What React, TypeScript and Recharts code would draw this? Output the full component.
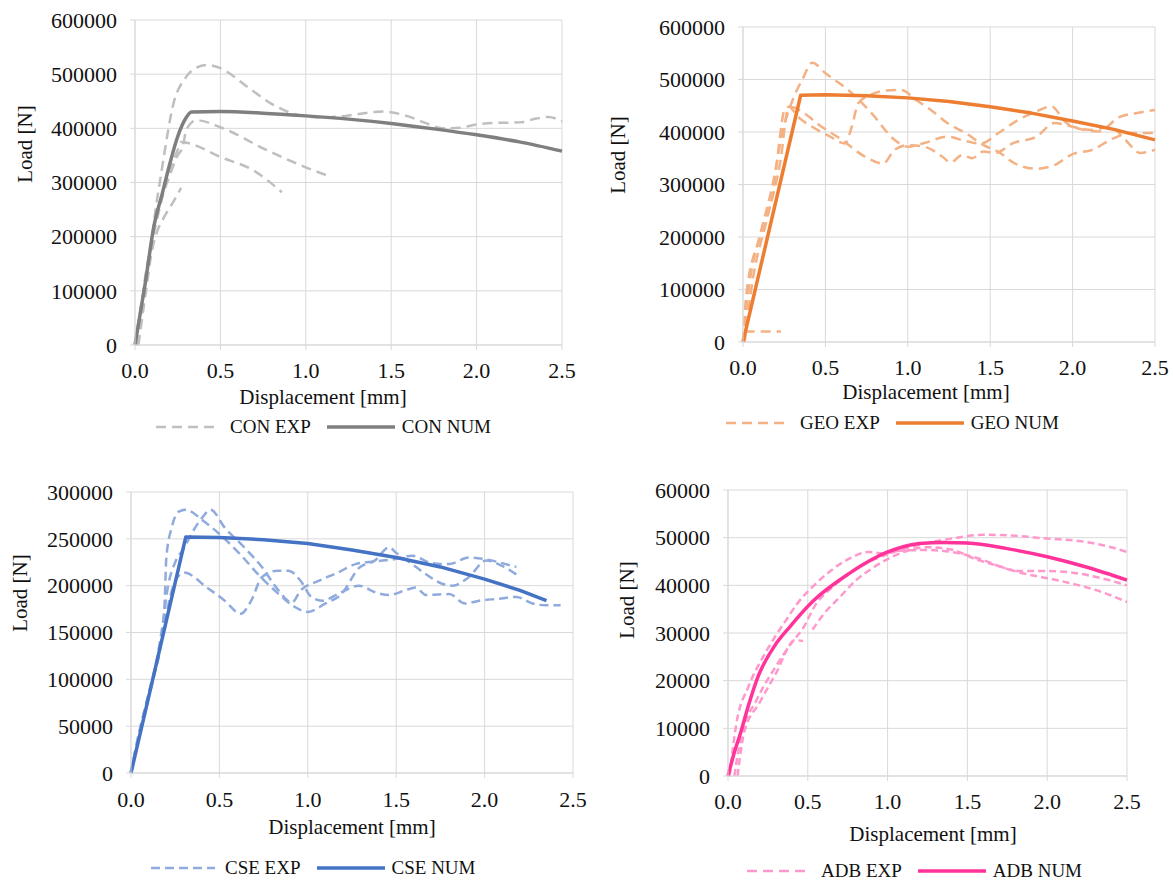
import React from "react";
import { LineChart, Line, XAxis, YAxis, CartesianGrid } from "recharts";

type Pt = [number, number];

const displacementTicks = [0, 0.5, 1, 1.5, 2, 2.5];
const loadTicksBig = [0, 100000, 200000, 300000, 400000, 500000, 600000];
const loadTicksCse = [0, 50000, 100000, 150000, 200000, 250000, 300000];
const loadTicksAdb = [0, 10000, 20000, 30000, 40000, 50000, 60000];

// CON
const conNum: Pt[] = [[0, 0], [0.06, 114000], [0.11, 218000], [0.16, 280000], [0.2, 330000], [0.25, 385000], [0.3, 420000], [0.33, 430000], [0.5, 431000], [0.75, 428000], [1.0, 423000], [1.25, 417000], [1.5, 409000], [1.75, 399000], [2.0, 388000], [2.25, 375000], [2.5, 358000]];
const conExpA: Pt[] = [[0.01, 0], [0.02, 15000], [0.06, 126000], [0.1, 199000], [0.12, 249000], [0.15, 310000], [0.17, 350000], [0.22, 439000], [0.3, 495000], [0.36, 512000], [0.42, 517000], [0.5, 511000], [0.66, 476000], [0.79, 447000], [0.9, 430000], [1.0, 422000], [1.1, 420000], [1.2, 422000], [1.3, 426000], [1.45, 431000], [1.6, 422000], [1.7, 410000], [1.8, 400000], [1.9, 401000], [2.0, 407000], [2.1, 410000], [2.25, 411000], [2.35, 418000], [2.42, 421000], [2.5, 413000]];
const conExpB: Pt[] = [[0, 0], [0.04, 80000], [0.08, 160000], [0.12, 230000], [0.15, 265000], [0.2, 310000], [0.25, 350000], [0.28, 366000], [0.3, 397000], [0.36, 415000], [0.5, 402000], [0.77, 360000], [1.04, 323000], [1.15, 310000]];
const conExpC: Pt[] = [[0, 0], [0.05, 100000], [0.1, 190000], [0.15, 260000], [0.2, 320000], [0.25, 360000], [0.27, 375000], [0.32, 372000], [0.5, 347000], [0.69, 323000], [0.86, 282000]];
const conExpD: Pt[] = [[0.02, 0], [0.06, 90000], [0.1, 175000], [0.13, 210000], [0.17, 236000], [0.22, 262000], [0.27, 290000]];

// GEO
const geoNum: Pt[] = [[0, 0], [0.35, 470000], [0.5, 471000], [0.75, 469000], [1.0, 465000], [1.25, 458000], [1.5, 448000], [1.75, 436000], [2.0, 421000], [2.25, 405000], [2.5, 385000]];
const geoExpA: Pt[] = [[0, 0], [0.02, 90000], [0.1, 200000], [0.18, 300000], [0.24, 400000], [0.3, 460000], [0.36, 500000], [0.42, 532000], [0.5, 512000], [0.65, 477000], [0.78, 436000], [0.92, 385000], [1.0, 372000], [1.1, 379000], [1.24, 391000], [1.35, 383000], [1.44, 378000], [1.55, 398000], [1.67, 423000], [1.78, 439000], [1.87, 449000], [1.96, 418000], [2.07, 404000], [2.16, 401000], [2.28, 428000], [2.39, 436000], [2.5, 442000]];
const geoExpB: Pt[] = [[0, 0], [0.03, 90000], [0.12, 219000], [0.19, 299000], [0.22, 380000], [0.25, 440000], [0.28, 448000], [0.33, 430000], [0.42, 410000], [0.53, 391000], [0.62, 378000], [0.66, 410000], [0.7, 455000], [0.77, 470000], [0.87, 479000], [0.96, 480000], [1.05, 461000], [1.14, 442000], [1.24, 417000], [1.35, 398000], [1.46, 375000], [1.55, 362000], [1.65, 340000], [1.78, 330000], [1.89, 337000], [2.0, 358000], [2.12, 366000], [2.23, 385000], [2.35, 398000], [2.5, 398000]];
const geoExpC: Pt[] = [[0.01, 0], [0.05, 100000], [0.15, 240000], [0.23, 350000], [0.27, 440000], [0.3, 447000], [0.37, 436000], [0.46, 414000], [0.6, 385000], [0.74, 353000], [0.85, 340000], [0.92, 366000], [1.0, 375000], [1.1, 372000], [1.21, 353000], [1.26, 342000], [1.33, 356000], [1.39, 350000], [1.46, 363000], [1.53, 360000], [1.64, 379000], [1.78, 391000], [1.89, 417000], [2.0, 410000], [2.12, 404000], [2.23, 410000], [2.32, 385000], [2.41, 360000], [2.5, 366000]];
const geoExpD: Pt[] = [[0.01, 20000], [0.23, 20000]];

// CSE
const cseNum: Pt[] = [[0, 0], [0.31, 252000], [0.5, 251500], [0.75, 249000], [1.0, 245000], [1.25, 238000], [1.5, 230000], [1.75, 220000], [2.0, 207000], [2.2, 195000], [2.35, 184000]];
const cseExpA: Pt[] = [[0, 0], [0.03, 30000], [0.08, 70000], [0.13, 105000], [0.17, 140000], [0.19, 180000], [0.2, 230000], [0.23, 262000], [0.27, 279000], [0.31, 281000], [0.41, 269000], [0.53, 250000], [0.62, 233000], [0.72, 212000], [0.83, 192000], [0.92, 178000], [1.0, 172000], [1.1, 181000], [1.19, 191000], [1.29, 219000], [1.38, 227000], [1.46, 241000], [1.5, 235000], [1.59, 223000], [1.67, 212000], [1.76, 202000], [1.82, 200000], [1.91, 209000], [2.01, 227000], [2.1, 221000], [2.18, 212000]];
const cseExpB: Pt[] = [[0, 0], [0.05, 45000], [0.1, 85000], [0.15, 125000], [0.18, 160000], [0.21, 200000], [0.25, 225000], [0.3, 240000], [0.35, 258000], [0.4, 272000], [0.45, 281000], [0.53, 262000], [0.64, 241000], [0.74, 220000], [0.83, 196000], [0.91, 182000], [0.96, 195000], [1.06, 205000], [1.17, 214000], [1.27, 223000], [1.38, 226000], [1.48, 228000], [1.59, 232000], [1.7, 224000], [1.8, 223000], [1.91, 230000], [2.01, 228000], [2.12, 223000], [2.18, 220000]];
const cseExpC: Pt[] = [[0, 0], [0.04, 35000], [0.1, 80000], [0.15, 120000], [0.2, 170000], [0.25, 205000], [0.3, 214000], [0.43, 198000], [0.53, 184000], [0.62, 170000], [0.68, 184000], [0.74, 209000], [0.83, 216000], [0.89, 216000], [0.96, 205000], [1.02, 188000], [1.08, 184000], [1.17, 191000], [1.29, 200000], [1.38, 193000], [1.46, 190000], [1.55, 195000], [1.61, 198000], [1.67, 190000], [1.8, 191000], [1.89, 181000], [1.97, 184000], [2.08, 186000], [2.18, 188000], [2.27, 181000], [2.35, 179000], [2.43, 179000]];

// ADB
const adbNum: Pt[] = [[0, 0], [0.04, 5000], [0.08, 9200], [0.13, 15000], [0.19, 21000], [0.29, 27200], [0.39, 31400], [0.53, 36600], [0.76, 42500], [1.0, 47000], [1.2, 48800], [1.35, 49000], [1.5, 48900], [1.75, 47700], [2.0, 46000], [2.25, 43800], [2.5, 41100]];
const adbExpA: Pt[] = [[0.01, 0], [0.05, 10500], [0.13, 18900], [0.22, 25000], [0.3, 29500], [0.36, 32500], [0.43, 36000], [0.53, 39700], [0.65, 43200], [0.76, 45600], [0.88, 47000], [0.97, 46700], [1.1, 47300], [1.25, 47400], [1.4, 47000], [1.5, 46300], [1.6, 45300], [1.7, 44000], [1.82, 43000], [2.0, 43000], [2.15, 42700], [2.3, 41800], [2.5, 40000]];
const adbExpB: Pt[] = [[0.04, 0], [0.08, 8000], [0.18, 16000], [0.3, 23000], [0.4, 28000], [0.47, 31000], [0.55, 36000], [0.65, 39500], [0.8, 43500], [1.0, 46500], [1.2, 48500], [1.4, 49800], [1.6, 50600], [1.8, 50400], [2.0, 49800], [2.2, 49300], [2.4, 48000], [2.5, 47000]];
const adbExpC: Pt[] = [[0.06, 0], [0.1, 9000], [0.2, 15500], [0.3, 21500], [0.42, 28500], [0.47, 28300]];
const adbExpD: Pt[] = [[0.53, 30700], [0.6, 34000], [0.7, 37500], [0.8, 41000], [0.9, 43500], [1.0, 45500], [1.1, 47000], [1.25, 48000], [1.4, 47500], [1.55, 45500], [1.7, 44000], [1.85, 42500], [2.0, 41500], [2.2, 40000], [2.35, 38500], [2.5, 36500]];

const FONT = "'Liberation Serif', 'Times New Roman', serif";
const TEXT = "#111";
const GRID = "#d9d9d9";

const rows = (pts: Pt[]) => pts.map(([x, y]) => ({ x, y }));

type PanelProps = {
  left: number;
  top: number;
  width: number;
  height: number;
  margin: { top: number; right: number; bottom: number; left: number };
  yWidth: number;
  yTicks: number[];
  num: Pt[];
  numCurve: "monotone" | "linear";
  exps: Pt[][];
  numColor: string;
  expColor: string;
  dash: string;
  yTitle: [number, number];
  xTitle: [number, number];
  xTickMargin: number;
};

const Panel = (p: PanelProps) => {
  const yMax = p.yTicks[p.yTicks.length - 1];
  return (
    <div style={{ position: "absolute", left: p.left, top: p.top }}>
      <LineChart width={p.width} height={p.height} margin={p.margin}>
        <CartesianGrid stroke={GRID} strokeWidth={1} />
        <XAxis
          type="number"
          dataKey="x"
          domain={[0, 2.5]}
          ticks={displacementTicks}
          interval={0}
          tickFormatter={(v: number) => v.toFixed(1)}
          height={30}
          tick={{ fontSize: 22, fontFamily: FONT, fill: TEXT }}
          axisLine={{ stroke: GRID }}
          tickLine={{ stroke: GRID }}
          tickSize={5}
          tickMargin={p.xTickMargin}
          label={() => (
            <text x={p.xTitle[0]} y={p.xTitle[1]} textAnchor="middle" dominantBaseline="central" fontFamily={FONT} fontSize={21} fill={TEXT}>
              Displacement [mm]
            </text>
          )}
        />
        <YAxis
          type="number"
          domain={[0, yMax]}
          ticks={p.yTicks}
          interval={0}
          width={p.yWidth}
          tick={{ fontSize: 22, fontFamily: FONT, fill: TEXT }}
          axisLine={{ stroke: GRID }}
          tickLine={{ stroke: GRID }}
          tickSize={5}
          tickMargin={13}
          label={() => (
            <text
              x={p.yTitle[0]}
              y={p.yTitle[1]}
              transform={`rotate(-90 ${p.yTitle[0]} ${p.yTitle[1]})`}
              textAnchor="middle"
              dominantBaseline="central"
              fontFamily={FONT}
              fontSize={21}
              fill={TEXT}
            >
              Load [N]
            </text>
          )}
        />
        {p.exps.map((e, i) => (
          <Line
            key={i}
            data={rows(e)}
            dataKey="y"
            type="monotone"
            stroke={p.expColor}
            strokeWidth={2.5}
            strokeDasharray={p.dash}
            dot={false}
            activeDot={false}
            isAnimationActive={false}
          />
        ))}
        <Line
          data={rows(p.num)}
          dataKey="y"
          type={p.numCurve}
          stroke={p.numColor}
          strokeWidth={3.5}
          strokeLinejoin="round"
          dot={false}
          activeDot={false}
          isAnimationActive={false}
        />
      </LineChart>
    </div>
  );
};

type LegendProps = { left: number; y: number; name: string; numColor: string; expColor: string; dash: string };

const PairLegend = ({ left, y, name, numColor, expColor, dash }: LegendProps) => (
  <div
    style={{
      position: "absolute",
      left,
      top: y - 12,
      height: 24,
      display: "flex",
      alignItems: "center",
      fontFamily: FONT,
      fontSize: 19,
      color: TEXT,
      whiteSpace: "nowrap",
    }}
  >
    <svg width={64} height={10}>
      <line x1={0} y1={5} x2={64} y2={5} stroke={expColor} strokeWidth={2.5} strokeDasharray={dash} />
    </svg>
    <span style={{ marginLeft: 10, marginRight: 16 }}>{name} EXP</span>
    <svg width={68} height={10}>
      <line x1={0} y1={5} x2={68} y2={5} stroke={numColor} strokeWidth={3.5} />
    </svg>
    <span style={{ marginLeft: 7 }}>{name} NUM</span>
  </div>
);

export default function App() {
  return (
    <div style={{ position: "absolute", left: 0, top: 0, width: 1173, height: 882, background: "#fff" }}>
      <Panel
        left={0}
        top={0}
        width={580}
        height={420}
        margin={{ top: 20, right: 18, bottom: 45, left: 0 }}
        yWidth={135}
        yTicks={loadTicksBig}
        num={conNum}
        numCurve="monotone"
        exps={[conExpA, conExpB, conExpC, conExpD]}
        numColor="#7f7f7f"
        expColor="#bfbfbf"
        dash="10 6"
        yTitle={[25, 144]}
        xTitle={[323, 397]}
        xTickMargin={12}
      />
      <PairLegend left={156} y={427} name="CON" numColor="#7f7f7f" expColor="#bfbfbf" dash="10 6" />

      <Panel
        left={590}
        top={0}
        width={583}
        height={420}
        margin={{ top: 27, right: 18, bottom: 48, left: 0 }}
        yWidth={153}
        yTicks={loadTicksBig}
        num={geoNum}
        numCurve="linear"
        exps={[geoExpA, geoExpB, geoExpC, geoExpD]}
        numColor="#ed7d31"
        expColor="#f4b183"
        dash="10 6"
        yTitle={[28, 155]}
        xTitle={[336, 392]}
        xTickMargin={12}
      />
      <PairLegend left={726} y={423} name="GEO" numColor="#ed7d31" expColor="#f4b183" dash="10 6" />

      <Panel
        left={0}
        top={470}
        width={590}
        height={412}
        margin={{ top: 22, right: 17, bottom: 79, left: 0 }}
        yWidth={131}
        yTicks={loadTicksCse}
        num={cseNum}
        numCurve="linear"
        exps={[cseExpA, cseExpB, cseExpC]}
        numColor="#4472c4"
        expColor="#8faadc"
        dash="9 5"
        yTitle={[20, 123]}
        xTitle={[352, 357]}
        xTickMargin={13}
      />
      <PairLegend left={151} y={868} name="CSE" numColor="#4472c4" expColor="#8faadc" dash="9 5" />

      <Panel
        left={590}
        top={470}
        width={583}
        height={412}
        margin={{ top: 20, right: 46, bottom: 76, left: 0 }}
        yWidth={138}
        yTicks={loadTicksAdb}
        num={adbNum}
        numCurve="monotone"
        exps={[adbExpA, adbExpB, adbExpC, adbExpD]}
        numColor="#ff3399"
        expColor="#ff99cc"
        dash="7 4"
        yTitle={[37, 130]}
        xTitle={[343, 364]}
        xTickMargin={12}
      />
      <PairLegend left={747} y={871} name="ADB" numColor="#ff3399" expColor="#ff99cc" dash="10 6" />
    </div>
  );
}
